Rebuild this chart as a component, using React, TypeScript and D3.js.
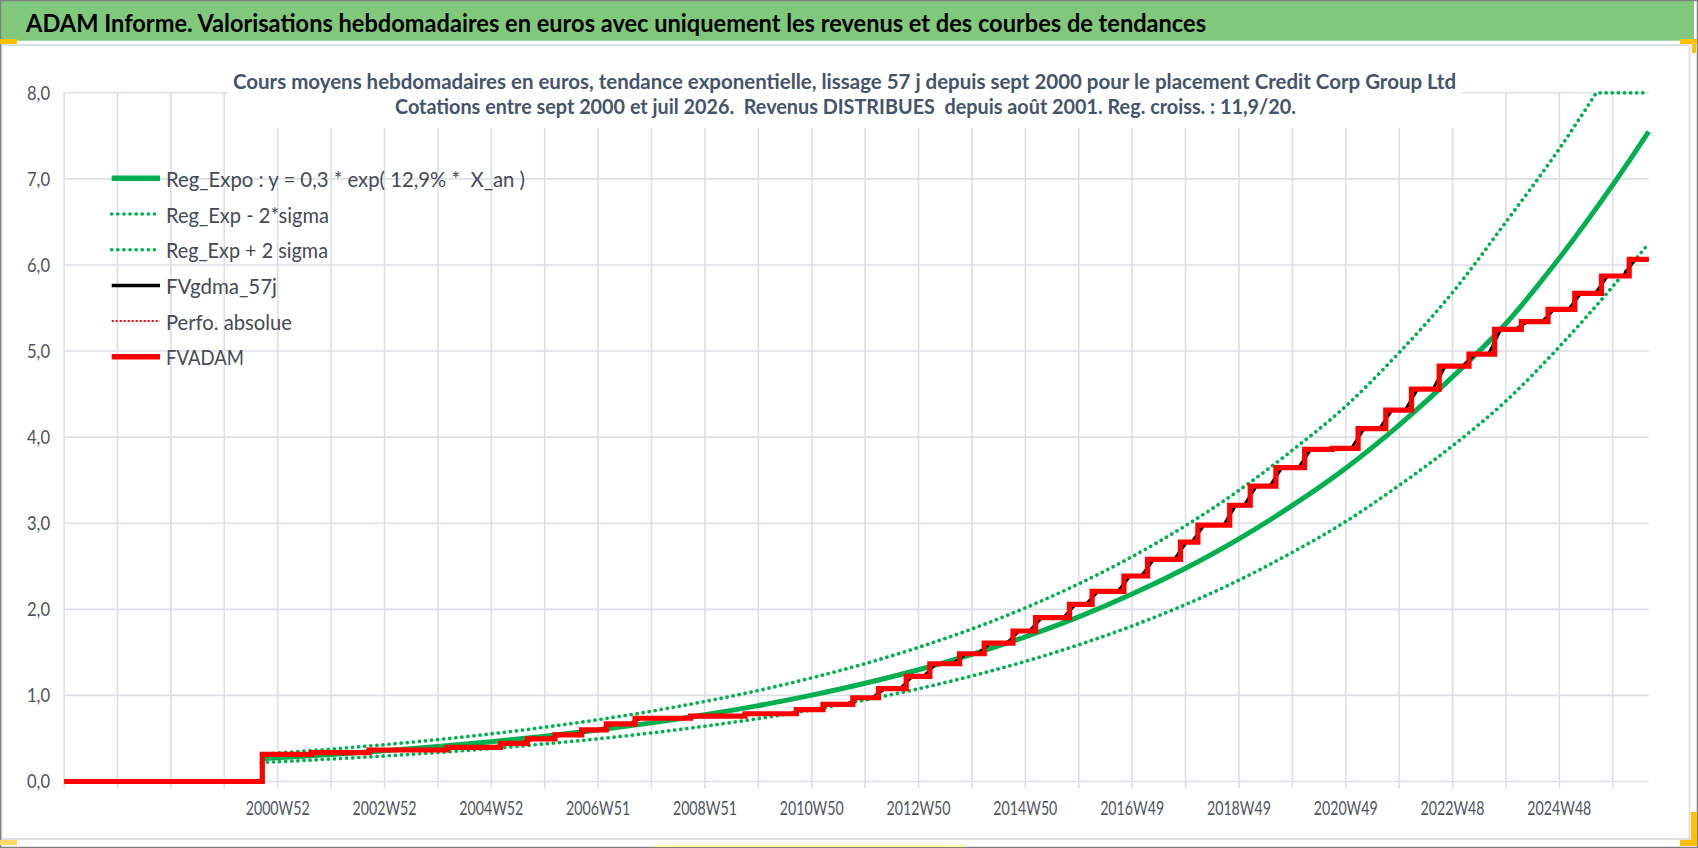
import React from 'react';
import * as d3 from 'd3';

// ---------- data ----------
const weekCount = 1543; // weeks shown on the category axis (first category = index 0)
const gridStep = 52;

const yTickValues = [0, 1, 2, 3, 4, 5, 6, 7, 8];
const yTickLabels = ['0,0', '1,0', '2,0', '3,0', '4,0', '5,0', '6,0', '7,0', '8,0'];

const xTickWeeks = [208, 312, 416, 520, 624, 728, 832, 936, 1040, 1144, 1248, 1352, 1456];
const xTickLabels = [
  '2000W52', '2002W52', '2004W52', '2006W51', '2008W51', '2010W50', '2012W50',
  '2014W50', '2016W49', '2018W49', '2020W49', '2022W48', '2024W48',
];

const trendWeeks = [192, 208, 260, 312, 364, 416, 468, 520, 572, 624, 676, 728, 780, 832, 884, 936, 988, 1040, 1092, 1144, 1196, 1248, 1300, 1352, 1404, 1456, 1508, 1543];
const regExpo = [0.265, 0.276, 0.314, 0.357, 0.406, 0.462, 0.526, 0.598, 0.681, 0.775, 0.881, 1.003, 1.141, 1.298, 1.477, 1.681, 1.913, 2.177, 2.477, 2.818, 3.207, 3.640, 4.140, 4.700, 5.320, 6.080, 6.930, 7.550];
const regExpMinus = [0.220, 0.229, 0.261, 0.296, 0.337, 0.383, 0.437, 0.496, 0.565, 0.643, 0.731, 0.832, 0.947, 1.077, 1.226, 1.395, 1.588, 1.807, 2.056, 2.339, 2.662, 3.020, 3.440, 3.900, 4.420, 5.050, 5.750, 6.250];
// rising part of the +2 sigma band, then the capped part at the axis maximum
const regExpPlusWeeks = [192, 208, 260, 312, 364, 416, 468, 520, 572, 624, 676, 728, 780, 832, 884, 936, 988, 1040, 1092, 1144, 1196, 1248, 1300, 1352, 1404, 1456, 1492];
const regExpPlus = [0.318, 0.331, 0.377, 0.428, 0.487, 0.554, 0.631, 0.718, 0.817, 0.930, 1.057, 1.204, 1.369, 1.558, 1.772, 2.017, 2.296, 2.612, 2.972, 3.382, 3.848, 4.360, 4.982, 5.680, 6.500, 7.350, 8.000];
const regExpPlusCapWeeks = [1492, 1543];
const regExpPlusCap = [8.0, 8.0];

const fvadamSteps: [number, number][] = [
  [0, 0], [193, 0.316], [241, 0.335], [297, 0.366], [373, 0.397], [425, 0.444], [451, 0.494],
  [478, 0.541], [504, 0.599], [528, 0.669], [556, 0.735], [610, 0.76], [663, 0.787], [713, 0.834],
  [739, 0.895], [768, 0.973], [793, 1.078], [820, 1.221], [843, 1.368], [872, 1.484], [896, 1.608],
  [924, 1.748], [946, 1.903], [979, 2.058], [1001, 2.209], [1032, 2.387], [1055, 2.58], [1087, 2.78],
  [1104, 2.977], [1135, 3.209], [1155, 3.43], [1180, 3.647], [1208, 3.857], [1235, 3.87], [1260, 4.1],
  [1287, 4.314], [1312, 4.558], [1339, 4.826], [1368, 4.965], [1393, 5.252], [1419, 5.341],
  [1445, 5.485], [1471, 5.671], [1497, 5.872], [1524, 6.066], [1543, 6.066],
];

const fvgdma: [number, number][] = [
  [193, 0.31], [235, 0.316], [247, 0.335], [291, 0.335], [303, 0.366], [367, 0.366], [379, 0.397],
  [419, 0.397], [431, 0.444], [445, 0.444], [457, 0.494], [472, 0.494], [484, 0.541], [498, 0.541],
  [510, 0.599], [522, 0.599], [534, 0.669], [550, 0.669], [562, 0.735], [604, 0.735], [616, 0.76],
  [657, 0.76], [669, 0.787], [707, 0.787], [719, 0.834], [733, 0.834], [745, 0.895], [762, 0.895],
  [774, 0.973], [787, 0.973], [799, 1.078], [814, 1.078], [826, 1.221], [837, 1.221], [849, 1.368],
  [866, 1.368], [878, 1.484], [890, 1.484], [902, 1.608], [918, 1.608], [930, 1.748], [940, 1.748],
  [952, 1.903], [973, 1.903], [985, 2.058], [995, 2.058], [1007, 2.209], [1026, 2.209], [1038, 2.387],
  [1049, 2.387], [1061, 2.58], [1081, 2.58], [1093, 2.78], [1098, 2.78], [1110, 2.977], [1129, 2.977],
  [1141, 3.209], [1149, 3.209], [1161, 3.43], [1174, 3.43], [1186, 3.647], [1202, 3.647], [1214, 3.857],
  [1254, 3.88], [1266, 4.1], [1281, 4.1], [1293, 4.314], [1306, 4.314], [1318, 4.558], [1333, 4.558],
  [1345, 4.826], [1362, 4.826], [1374, 4.965], [1387, 4.965], [1399, 5.252], [1413, 5.252], [1425, 5.341],
  [1439, 5.341], [1451, 5.485], [1465, 5.485], [1477, 5.671], [1491, 5.671], [1503, 5.872], [1518, 5.872],
  [1530, 6.066], [1543, 6.066],
];

const legendLabels = [
  'Reg_Expo : y = 0,3 * exp( 12,9% *  X_an )',
  'Reg_Exp - 2*sigma',
  'Reg_Exp + 2 sigma',
  'FVgdma_57j',
  'Perfo. absolue',
  'FVADAM',
];
const legendTextWidths = [359, 163, 162, 111, 126, 78];

const headerTitle = 'ADAM Informe. Valorisations hebdomadaires en euros avec uniquement les revenus et des courbes de tendances';
const chartTitleLines = [
  'Cours moyens hebdomadaires en euros, tendance exponentielle, lissage 57 j depuis sept 2000 pour le placement Credit Corp Group Ltd',
  'Cotations entre sept 2000 et juil 2026.  Revenus DISTRIBUES  depuis août 2001. Reg. croiss. : 11,9/20.',
];

// ---------- styles ----------
const GREEN = '#00B050';
const RED = '#FF0000';
const GRID = '#DCDFE6';
const AXIS_TEXT = '#4D5360';
const FONT = "Lato, 'Open Sans', 'Noto Sans', sans-serif";

const legendStyles = [
  { color: GREEN, width: 5.5, dash: undefined as string | undefined, cap: 'butt' },
  { color: GREEN, width: 3.6, dash: '0.1 6', cap: 'round' },
  { color: GREEN, width: 3.6, dash: '0.1 6', cap: 'round' },
  { color: '#000000', width: 3.5, dash: undefined, cap: 'butt' },
  { color: RED, width: 2, dash: '2 2', cap: 'butt' },
  { color: RED, width: 5.5, dash: undefined, cap: 'butt' },
];

export default function App() {
  const W = 1698;
  const H = 848;
  const plotLeft = 64.1;
  const plotRight = 1648.7;
  const plotTop = 92.8;
  const plotBottom = 781.5;

  const x = d3.scaleLinear().domain([0, weekCount]).range([plotLeft, plotRight]);
  const y = d3.scaleLinear().domain([0, 8]).range([plotBottom, plotTop]);
  const gridWeeks = d3.range(0, weekCount, gridStep);

  const smooth = d3
    .line<[number, number]>()
    .x((d) => x(d[0]))
    .y((d) => y(d[1]))
    .curve(d3.curveMonotoneX);
  const straight = d3
    .line<[number, number]>()
    .x((d) => x(d[0]))
    .y((d) => y(d[1]));
  const steps = d3
    .line<[number, number]>()
    .x((d) => x(d[0]))
    .y((d) => y(d[1]))
    .curve(d3.curveStepAfter);

  const trendPts = trendWeeks.map((w, i) => [w, regExpo[i]] as [number, number]);
  const minusPts = trendWeeks.map((w, i) => [w, regExpMinus[i]] as [number, number]);
  const plusPts = regExpPlusWeeks.map((w, i) => [w, regExpPlus[i]] as [number, number]);
  const plusCapPts = regExpPlusCapWeeks.map((w, i) => [w, regExpPlusCap[i]] as [number, number]);
  const plusPath =
    (smooth(plusPts) || '') + ' ' + (straight(plusCapPts) || '').replace(/^M/, 'L');

  const legendX0 = 111.7;
  const legendX1 = 160;
  const legendTextX = 166;
  const legendY0 = 178.3;
  const legendDy = 35.7;

  return (
    <svg
      width={W}
      height={H}
      viewBox={`0 0 ${W} ${H}`}
      style={{ position: 'absolute', left: 0, top: 0, background: '#ffffff' }}
      fontFamily={FONT}
    >
      <rect x={0} y={0} width={W} height={H} fill="#ffffff" />
      {/* header bar */}
      <rect x={0} y={0} width={1694} height={40.7} fill="#7FC87C" />
      <text
        x={26}
        y={31.7}
        fontSize={25}
        fontWeight={700}
        fill="#000000"
        textLength={1180}
        lengthAdjust="spacingAndGlyphs"
      >
        {headerTitle}
      </text>
      {/* chart area border */}
      <rect x={1.5} y={45} width={1688} height={794} fill="none" stroke="#DCDFE6" strokeWidth={2} />

      {/* grid */}
      {yTickValues.map((v) => (
        <line key={'h' + v} x1={plotLeft} x2={plotRight} y1={y(v)} y2={y(v)} stroke={GRID} strokeWidth={1.6} />
      ))}
      {gridWeeks.map((w) => (
        <line key={'v' + w} x1={x(w)} x2={x(w)} y1={plotTop} y2={plotBottom + 7} stroke={GRID} strokeWidth={1.6} />
      ))}

      {/* chart title box */}
      <rect x={228} y={58} width={1234} height={70} fill="#ffffff" />
      {chartTitleLines.map((t, i) => (
        <text
          key={t}
          x={i === 0 ? 233 : 395}
          y={i === 0 ? 88.5 : 114}
          fontSize={21}
          fontWeight={700}
          fill="#44546A"
          textLength={i === 0 ? 1223 : 901}
          lengthAdjust="spacingAndGlyphs"
          style={{ whiteSpace: 'pre' }}
        >
          {t}
        </text>
      ))}

      {/* axis labels */}
      {yTickValues.map((v, i) => (
        <text
          key={'yl' + v}
          x={50}
          y={y(v) + 6.8}
          fontSize={19}
          fill={AXIS_TEXT}
          textAnchor="end"
          textLength={23}
          lengthAdjust="spacingAndGlyphs"
        >
          {yTickLabels[i]}
        </text>
      ))}
      {xTickWeeks.map((w, i) => (
        <text
          key={'xl' + w}
          x={x(w) - 32}
          y={815.3}
          fontSize={19}
          fill={AXIS_TEXT}
          textLength={64}
          lengthAdjust="spacingAndGlyphs"
        >
          {xTickLabels[i]}
        </text>
      ))}

      {/* series */}
      <path d={smooth(trendPts) || ''} fill="none" stroke={GREEN} strokeWidth={5} />
      <path
        d={smooth(minusPts) || ''}
        fill="none"
        stroke={GREEN}
        strokeWidth={3.7}
        strokeDasharray="0.1 6"
        strokeLinecap="round"
      />
      <path
        d={plusPath}
        fill="none"
        stroke={GREEN}
        strokeWidth={3.7}
        strokeDasharray="0.1 6"
        strokeLinecap="round"
      />
      <path d={straight(fvgdma) || ''} fill="none" stroke="#000000" strokeWidth={3} />
      <path d={steps(fvadamSteps) || ''} fill="none" stroke={RED} strokeWidth={5.2} strokeLinejoin="miter" />

      {/* legend */}
      {legendLabels.map((lab, i) => {
        const ly = legendY0 + i * legendDy;
        const st = legendStyles[i];
        return (
          <g key={lab}>
            <line
              x1={legendX0}
              x2={legendX1}
              y1={ly}
              y2={ly}
              stroke={st.color}
              strokeWidth={st.width}
              strokeDasharray={st.dash}
              strokeLinecap={st.cap as any}
            />
            <text
              x={legendTextX}
              y={ly + 8.6}
              fontSize={21}
              fill="#454A55"
              textLength={legendTextWidths[i]}
              lengthAdjust="spacingAndGlyphs"
              style={{ whiteSpace: 'pre' }}
            >
              {lab}
            </text>
          </g>
        );
      })}

      {/* window frame & selection handles */}
      <rect x={0} y={0} width={W} height={H} fill="none" stroke="#808080" strokeWidth={2.5} />
      <rect x={0} y={39} width={17} height={5} fill="#FFC000" />
      <rect x={1680} y={39} width={17} height={5} fill="#FFC000" />
      <rect x={1692} y={39} width={4} height={14} fill="#FFC000" />
      <rect x={1691} y={812} width={6} height={34} fill="#FFC000" />
      <rect x={1680} y={840} width={17} height={6} fill="#FFC000" />
      <rect x={0} y={840} width={17} height={5} fill="#FFD966" />
      <rect x={655} y={845} width={310} height={2} fill="#FFFF99" />
    </svg>
  );
}
